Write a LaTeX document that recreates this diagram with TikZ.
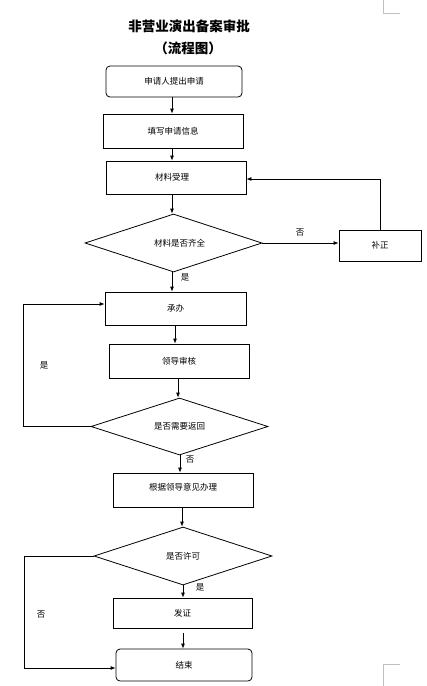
\documentclass[tikz,border=0pt]{standalone}
\usepackage{fontspec}
\setmainfont{Noto Sans CJK SC}
\usetikzlibrary{shapes.geometric,arrows.meta,calc}
\begin{document}
\begin{tikzpicture}[x=1pt,y=-1pt,
  box/.style={draw,line width=0.8pt,inner sep=0pt,font=\fontsize{8.5}{10}\selectfont},
  rbox/.style={box,rounded corners=4pt},
  dia/.style={draw,line width=0.8pt,diamond,inner sep=0pt,font=\fontsize{8.5}{10}\selectfont},
  arr/.style={-{Latex[length=5pt,width=4pt]},line width=0.8pt},
  lab/.style={font=\fontsize{8.5}{10}\selectfont,inner sep=0pt},
  cropmark/.style={draw=black!25,line width=0.6pt}]
\useasboundingbox (0,0) rectangle (427,686);
\node[font=\fontsize{13.5}{15}\selectfont\bfseries] (t1) at (189,26) {非营业演出备案审批};
\node[font=\fontsize{13.5}{15}\selectfont\bfseries] (t2) at (188,48) {（流程图）};
\node[rbox,minimum width=136,minimum height=31] (b1) at (174,81.5) {申请人提出申请};
\node[box,minimum width=140,minimum height=34] (b2) at (173,131) {填写申请信息};
\node[box,minimum width=140,minimum height=33] (b3) at (176,177.5) {\hspace*{-8pt}材料受理};
\node[dia,aspect=3.05,minimum width=177,minimum height=58] (d1) at (173.5,243) {\hspace*{12pt}材料是否齐全};
\node[box,minimum width=82,minimum height=31] (bz) at (380,245.5) {补正};
\node[box,minimum width=141,minimum height=33] (b5) at (175.5,308.5) {承办};
\node[box,minimum width=140,minimum height=34] (b6) at (179,361) {领导审核};
\node[dia,aspect=3.1,minimum width=177,minimum height=57] (d2) at (179.5,426.5) {是否需要返回};
\node[box,minimum width=140,minimum height=34] (b7) at (183,490) {\raisebox{6pt}{根据领导意见办理}};
\node[dia,aspect=3.07,minimum width=178,minimum height=58] (d3) at (183,556) {是否许可};
\node[box,minimum width=139,minimum height=30] (b8) at (182.5,613) {发证};
\node[rbox,minimum width=136,minimum height=32] (b9) at (184,665) {结束};
\coordinate (l1) at (23,304);
\coordinate (l2) at (24,668);
\draw[arr] (b1.south -| 172,0) -- (b2.north -| 172,0);
\draw[arr] (b2.south -| 172,0) -- (b3.north -| 172,0);
\draw[arr] (b3.south -| 172,0) -- (d1.north -| 172,0);
\draw[arr] (d1.south -| 172,0) -- (b5.north -| 172,0);
\draw[arr] (b5.south -| 175,0) -- (b6.north -| 175,0);
\draw[arr] (b6.south -| 178,0) -- (d2.north -| 178,0);
\draw[arr] (d2.south -| 180,0) -- (b7.north -| 180,0);
\draw[arr] (b7.south -| 182,0) -- (d3.north -| 182,0);
\draw[arr] (d3.south -| 183,0) -- (b8.north -| 183,0);
\draw[arr,shorten <=5pt] (b8.south -| 183,0) -- (b9.north -| 183,0);
\draw[arr] (d1.east) -- (bz.west |- d1.east);
\draw[arr] (bz.north) |- ($(b3.east)+(0,1.5)$);
\draw[arr] (d2.west) -| (l1) -- (l1 -| b5.west);
\draw[arr] (d3.west) -| (l2) -- (l2 -| b9.west);
\node[lab] (y1) at (185,277) {是};
\node[lab] (n1) at (300,233) {否};
\node[lab] (y2) at (44,365) {是};
\node[lab] (n2) at (190,460) {否};
\node[lab] (y3) at (200,587) {是};
\node[lab] (n3) at (41,615) {否};
\draw[cropmark] (383,0) -- (383,13) -- (400,13);
\draw[cropmark] (400,664) -- (383,664) -- (383,686);
\end{tikzpicture}
\end{document}
